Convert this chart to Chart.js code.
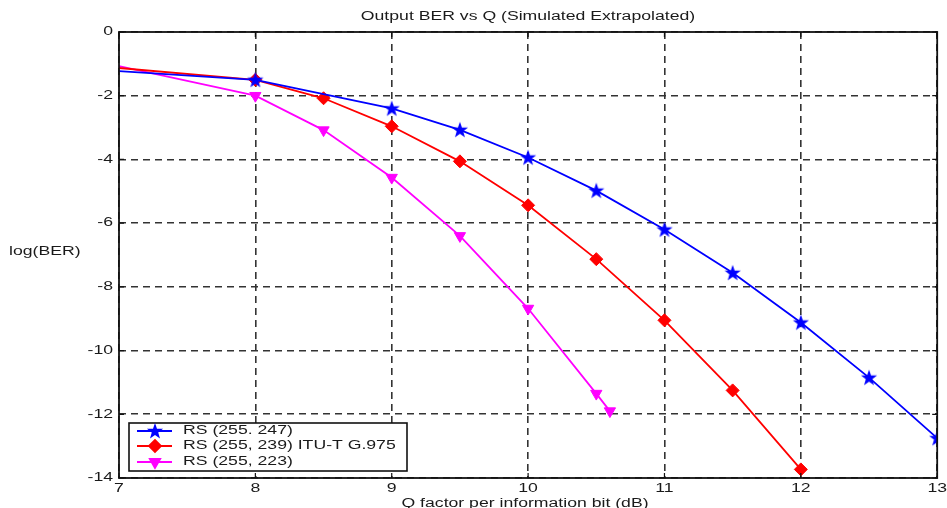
<!DOCTYPE html>
<html>
<head>
<meta charset="utf-8">
<script src="https://cdn.jsdelivr.net/npm/chart.js@4.4.1/dist/chart.umd.min.js"></script>
<style>
  html, body { margin: 0; padding: 0; background: #fff; }
  #wrap { width: 947px; height: 508px; position: relative; }
</style>
</head>
<body>
<div id="wrap"><canvas id="grafico"></canvas></div>
<script>
// Dados: log(BER) vs fator Q
const qFactor247 = [7, 8, 9, 9.5, 10, 10.5, 11, 11.5, 12, 12.5, 13];
const logBer247 = [-1.23, -1.5, -2.4, -3.07, -3.94, -4.98, -6.2, -7.56, -9.12, -10.85, -12.75];

const qFactor239 = [7, 8, 8.5, 9, 9.5, 10, 10.5, 11, 11.5, 12];
const logBer239 = [-1.13, -1.5, -2.08, -2.96, -4.06, -5.44, -7.13, -9.05, -11.25, -13.73];

const qFactor223 = [7, 8, 8.5, 9, 9.5, 10, 10.5, 10.6];
const logBer223 = [-1.07, -2.0, -3.08, -4.57, -6.4, -8.68, -11.35, -11.9];

const xTicks = [7, 8, 9, 10, 11, 12, 13];
const yTicks = [0, -2, -4, -6, -8, -10, -12, -14];
const seriesLabels = ['RS (255. 247)', 'RS (255, 239) ITU-T G.975', 'RS (255, 223)'];

const chartTitle = 'Output BER vs Q (Simulated Extrapolated)';
const xTitle = 'Q factor per information bit (dB)';
const yTitle = 'log(BER)';

const FONT = '12px "Liberation Sans", Arial, sans-serif';
const TEXT_COLOR = '#1a1a1a';
const SX = 1.47; // texto do original é esticado na horizontal

// Estrela de 5 pontas (pentagrama do MATLAB) como imagem
function makeStar(color) {
  const c = document.createElement('canvas');
  c.width = 18; c.height = 18;
  const g = c.getContext('2d');
  g.beginPath();
  for (let i = 0; i < 10; i++) {
    const r = i % 2 === 0 ? 8.5 : 3.4;
    const a = -Math.PI / 2 + i * Math.PI / 5;
    const px = 9 + r * Math.cos(a), py = 9.5 + r * Math.sin(a);
    if (i === 0) g.moveTo(px, py); else g.lineTo(px, py);
  }
  g.closePath();
  g.fillStyle = color;
  g.fill();
  return c;
}
const starImg = makeStar('#0000ff');

const toPoints = (xs, ys) => xs.map((x, i) => ({ x, y: ys[i] }));
// primeiro ponto (Q = 7) sem marcador
const radii = (n, r) => Array.from({ length: n }, (_, i) => (i === 0 ? 0 : r));

function drawText(ctx, text, x, y, align) {
  ctx.save();
  ctx.translate(x, y);
  ctx.scale(SX, 1);
  ctx.font = FONT;
  ctx.fillStyle = TEXT_COLOR;
  ctx.textAlign = align;
  ctx.textBaseline = 'middle';
  ctx.fillText(text, 0, 0);
  ctx.restore();
}

// Textos, caixa, marcas de escala e legenda no estilo MATLAB
const matlabPlugin = {
  id: 'matlabStyle',
  afterDraw(chart) {
    const { ctx, chartArea: a, scales } = chart;
    const xs = scales.x, ys = scales.y;

    ctx.save();
    // moldura sólida
    ctx.strokeStyle = '#111';
    ctx.lineWidth = 1.8;
    ctx.setLineDash([]);
    ctx.strokeRect(a.left, a.top, a.right - a.left, a.bottom - a.top);

    // marcas de escala internas
    ctx.lineWidth = 1.2;
    ctx.beginPath();
    xTicks.forEach(v => {
      const px = xs.getPixelForValue(v);
      ctx.moveTo(px, a.bottom); ctx.lineTo(px, a.bottom - 5);
      ctx.moveTo(px, a.top); ctx.lineTo(px, a.top + 5);
    });
    yTicks.forEach(v => {
      const py = ys.getPixelForValue(v);
      ctx.moveTo(a.left, py); ctx.lineTo(a.left + 5, py);
      ctx.moveTo(a.right, py); ctx.lineTo(a.right - 5, py);
    });
    ctx.stroke();
    ctx.restore();

    // rótulos dos eixos
    xTicks.forEach(v => drawText(ctx, String(v), xs.getPixelForValue(v), a.bottom + 11, 'center'));
    yTicks.forEach(v => drawText(ctx, String(v), a.left - 6, ys.getPixelForValue(v), 'right'));

    drawText(ctx, chartTitle, 528, 17, 'center');
    drawText(ctx, xTitle, 525, 504, 'center');
    drawText(ctx, yTitle, 9, 252, 'left');

    // legenda dentro do gráfico
    const box = { left: 129, top: 423, right: 407, bottom: 471 };
    ctx.save();
    ctx.fillStyle = '#fff';
    ctx.fillRect(box.left, box.top, box.right - box.left, box.bottom - box.top);
    ctx.strokeStyle = '#111';
    ctx.lineWidth = 1.6;
    ctx.strokeRect(box.left, box.top, box.right - box.left, box.bottom - box.top);
    ctx.restore();

    const rows = [431, 446, 462];
    chart.data.datasets.forEach((ds, i) => {
      const y = rows[i];
      ctx.save();
      ctx.strokeStyle = ds.borderColor;
      ctx.lineWidth = 1.8;
      ctx.beginPath();
      ctx.moveTo(137, y); ctx.lineTo(172, y);
      ctx.stroke();
      ctx.fillStyle = ds.backgroundColor;
      ctx.strokeStyle = ds.backgroundColor;
      Chart.helpers.drawPoint(ctx, {
        pointStyle: ds.legendStyle,
        radius: 6,
        rotation: ds.pointRotation || 0,
        borderWidth: 1
      }, 155, y);
      ctx.restore();
      drawText(ctx, ds.label, 183, y, 'left');
    });
  }
};

const ctx = document.getElementById('grafico');

new Chart(ctx, {
  type: 'line',
  data: {
    datasets: [
      {
        label: seriesLabels[0],
        data: toPoints(qFactor247, logBer247),
        borderColor: '#0000ff',
        backgroundColor: '#0000ff',
        borderWidth: 1.8,
        pointStyle: starImg,
        legendStyle: starImg,
        pointRadius: radii(qFactor247.length, 8),
        tension: 0
      },
      {
        label: seriesLabels[1],
        data: toPoints(qFactor239, logBer239),
        borderColor: '#ff0000',
        backgroundColor: '#ff0000',
        borderWidth: 1.8,
        pointStyle: 'rectRot',
        legendStyle: 'rectRot',
        pointRadius: radii(qFactor239.length, 6.5),
        pointBorderWidth: 1,
        tension: 0
      },
      {
        label: seriesLabels[2],
        data: toPoints(qFactor223, logBer223),
        borderColor: '#ff00ff',
        backgroundColor: '#ff00ff',
        borderWidth: 1.8,
        pointStyle: 'triangle',
        legendStyle: 'triangle',
        pointRotation: 180,
        pointRadius: radii(qFactor223.length, 6.5),
        pointBorderWidth: 1,
        tension: 0
      }
    ]
  },
  options: {
    responsive: true,
    maintainAspectRatio: false,
    animation: false,
    layout: { padding: { left: 119, top: 32, right: 7, bottom: 30 } },
    plugins: {
      legend: { display: false },
      title: { display: false },
      tooltip: { enabled: false }
    },
    scales: {
      x: {
        type: 'linear',
        min: 7,
        max: 13,
        afterBuildTicks: s => { s.ticks = xTicks.map(v => ({ value: v })); },
        afterFit: s => { s.height = 0; },
        ticks: { display: false },
        grid: { color: '#333', lineWidth: 1.6, drawTicks: false },
        border: { display: false, dash: [7, 5] }
      },
      y: {
        type: 'linear',
        min: -14,
        max: 0,
        afterBuildTicks: s => { s.ticks = yTicks.map(v => ({ value: v })); },
        afterFit: s => { s.width = 0; },
        ticks: { display: false },
        grid: { color: '#333', lineWidth: 1.6, drawTicks: false },
        border: { display: false, dash: [7, 5] }
      }
    }
  },
  plugins: [matlabPlugin]
});
</script>
</body>
</html>
